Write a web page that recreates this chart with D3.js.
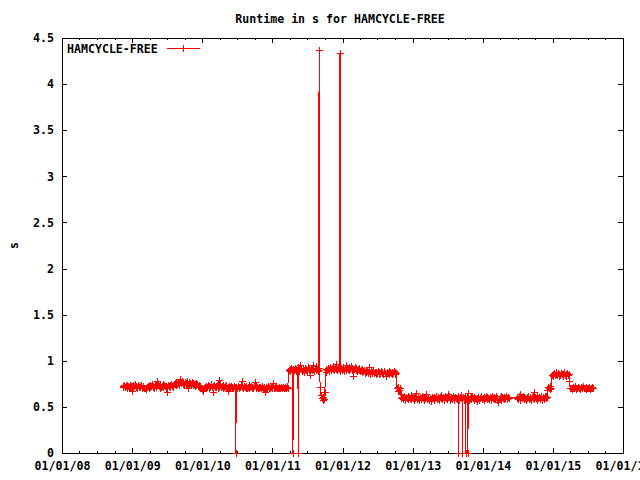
<!DOCTYPE html>
<html><head><meta charset="utf-8">
<script src="https://cdn.jsdelivr.net/npm/d3@7"></script>
<style>
body{margin:0;background:#fff;}
svg{display:block;}
text{font-family:"DejaVu Sans Mono",monospace;font-weight:bold;font-size:11.6px;fill:#000;}
</style></head><body>
<svg id="chart" width="640" height="480"></svg>
<script>
// ---------------- data ----------------
const chartTitle = "Runtime in s for HAMCYCLE-FREE";
const seriesName = "HAMCYCLE-FREE";
const yAxisLabel = "s";
const xDomain = ["2008-01-01", "2016-01-01"];
const yDomain = [0, 4.5];
const yTickValues = [0, 0.5, 1, 1.5, 2, 2.5, 3, 3.5, 4, 4.5];
const sampleStepDays = 4;

const segAStart = "2008-11-12";
const segAValues = [
  0.73,0.72,0.74,0.72,0.73,0.71,0.74,0.73,0.72,0.74,
  0.72,0.73,0.67,0.74,0.72,0.73,0.75,0.72,0.73,0.71,
  0.74,0.72,0.73,0.72,0.74,0.71,0.73,0.72,0.70,0.71,
  0.69,0.71,0.72,0.73,0.71,0.74,0.72,0.73,0.75,0.72,
  0.73,0.71,0.74,0.72,0.73,0.78,0.74,0.73,0.71,0.74,
  0.72,0.73,0.75,0.72,0.74,0.73,0.71,0.73,0.66,0.74,
  0.73,0.72,0.74,0.75,0.73,0.74,0.72,0.75,0.76,0.74,
  0.77,0.75,0.76,0.74,0.77,0.80,0.76,0.78,0.75,0.76,
  0.74,0.77,0.75,0.76,0.78,0.70,0.77,0.74,0.76,0.75,
  0.77,0.74,0.76,0.75,0.73,0.76,0.74,0.75,0.73,0.74,
  0.72,0.73,0.71,0.69,0.67,0.68,0.70,0.72,0.71,0.73,
  0.72,0.74,0.71,0.73,0.72,0.75,0.72,0.73,0.66,0.74,
  0.72,0.73,0.72,0.74,0.71,0.79,0.72,0.75,0.72,0.73,
  0.71,0.74,0.72,0.73,0.72,0.74,0.71,0.67,0.73,0.71,
  0.72,0.73,0.70,0.72,0.71,0.73,0.72,0.70,0.72,0.71,
  0.73,0.72,0.71,0.72,0.74,0.78,0.72,0.71,0.73,0.72,
  0.70,0.73,0.71,0.72,0.74,0.71,0.72,0.73,0.71,0.72,
  0.70,0.73,0.77,0.71,0.73,0.72,0.71,0.72,0.70,0.72,
  0.71,0.73,0.72,0.71,0.72,0.66,0.71,0.72,0.71,0.73,
  0.72,0.70,0.71,0.72,0.71,0.70,0.76,0.71,0.73,0.71,
  0.72,0.70,0.71,0.72,0.71,0.70,0.72,0.71,0.70,0.72,
  0.71,0.72,0.70,0.71,0.72,0.71
];

const segBStart = "2011-03-27";
const segBValues = [
  0.90,0.91,0.89,0.92,0.90,0.88,0.91,0.90,0.92,0.89,
  0.91,0.90,0.93,0.89,0.91,0.95,0.92,0.89,0.91,0.90,
  0.88,0.92,0.90,0.91,0.89,0.93,0.90,0.92,0.85,0.91,
  0.90,0.95,0.91,0.89,0.92,0.90,0.94,0.91,0.89,0.92,
  0.90,0.72,0.63,0.60,0.58,0.61,0.59,0.66,0.88,0.91,
  0.90,0.92,0.89,0.91,0.93,0.90,0.92,0.91,0.94,0.90,
  0.92,0.91,0.97,0.90,0.92,0.94,0.91,0.89,0.92,0.90,
  0.93,0.91,0.89,0.92,0.95,0.90,0.92,0.91,0.93,0.90,
  0.91,0.94,0.90,0.92,0.84,0.91,0.93,0.90,0.92,0.89,
  0.91,0.90,0.92,0.89,0.90,0.88,0.91,0.89,0.90,0.87,
  0.89,0.88,0.90,0.87,0.89,0.93,0.86,0.89,0.87,0.88,
  0.90,0.87,0.88,0.86,0.88,0.87,0.89,0.86,0.88,0.87,
  0.89,0.87,0.88,0.86,0.89,0.87,0.84,0.86,0.88,0.87,
  0.89,0.86,0.88,0.87,0.88,0.86,0.87,0.89,0.86,0.88,
  0.87
];

const segCStart = "2012-10-10";
const segCValues = [
  0.70,0.67,0.72,0.68,0.71,0.64,0.60,0.61,0.59,0.62,
  0.60,0.58,0.61,0.60,0.62,0.59,0.61,0.60,0.63,0.59,
  0.61,0.60,0.58,0.62,0.60,0.65,0.59,0.60,0.62,0.58,
  0.61,0.59,0.60,0.62,0.60,0.58,0.61,0.60,0.64,0.59,
  0.60,0.61,0.58,0.60,0.56,0.59,0.61,0.60,0.58,0.61,
  0.60,0.62,0.59,0.61,0.60,0.58,0.61,0.63,0.60,0.59,
  0.61,0.60,0.58,0.62,0.60,0.59,0.61,0.64,0.62,0.58,
  0.60,0.61,0.59,0.62,0.60,0.58,0.61,0.60,0.59,0.62,
  0.60,0.58,0.61,0.60,0.63,0.59,0.61,0.60,0.58,0.61,
  0.59,0.61,0.60,0.65,0.58,0.60,0.61,0.59,0.62,0.60,
  0.58,0.61,0.60,0.59,0.56,0.60,0.61,0.58,0.60,0.61,
  0.62,0.59,0.60,0.61,0.58,0.60,0.62,0.59,0.61,0.60,
  0.59,0.61,0.60,0.58,0.62,0.60,0.61,0.59,0.60,0.62,
  0.58,0.60,0.55,0.59,0.60,0.62,0.58,0.61,0.60,0.59,
  0.61,0.60,0.62,0.59,0.60,0.61,0.60,null,null,null,
  null,null,null,null,null,null,0.60,0.61,0.59,0.62,
  0.64,0.58,0.61,0.60,0.62,0.59,0.61,0.60,0.58,0.61,
  0.60,0.62,0.59,0.61,0.60,0.58,0.61,0.60,0.66,0.59,
  0.61,0.60,0.58,0.62,0.60,0.61,0.59,0.60,0.62,0.58,
  0.61,0.60,0.59,0.62,0.60,0.61,0.68,0.72,0.70,0.73,
  0.69,0.71
];

const segDStart = "2014-12-26";
const segDValues = [
  0.85,0.86,0.84,0.87,0.85,0.86,0.88,0.85,0.87,0.84,
  0.86,0.85,0.87,0.86,0.84,0.86,0.88,0.85,0.86,0.84,
  0.87,0.85,0.86,0.78
];

const segEStart = "2015-04-01";
const segEValues = [
  0.70,0.71,0.69,0.72,0.70,0.71,0.73,0.69,0.71,0.70,
  0.72,0.70,0.71,0.69,0.72,0.70,0.71,0.73,0.70,0.71,
  0.69,0.72,0.70,0.71,0.70,0.72,0.69,0.71,0.70,0.72,
  0.71
];

const zeroDates = ["2010-06-24","2011-04-18","2011-05-15","2013-08-27","2013-09-17","2013-10-03","2013-10-15"];
const spikeDates = ["2011-09-01","2011-12-19"];
const spikeValues = [4.37, 4.34];

// ---------------- build ----------------
const parse = d3.utcParse("%Y-%m-%d");
function segPoints(start, values) {
  const s = parse(start);
  return values.map((v, i) => ({date: d3.utcDay.offset(s, i * sampleStepDays), value: v}))
               .filter(d => d.value !== null);
}
let points = [].concat(
  segPoints(segAStart, segAValues),
  segPoints(segBStart, segBValues),
  segPoints(segCStart, segCValues),
  segPoints(segDStart, segDValues),
  segPoints(segEStart, segEValues),
  zeroDates.map(d => ({date: parse(d), value: 0})),
  spikeDates.map((d, i) => ({date: parse(d), value: spikeValues[i]}))
);
points.sort((a, b) => a.date - b.date);

const W = 640, H = 480;
const L = 62, R = 623, T = 38, B = 453;
const svg = d3.select("#chart");
svg.append("rect").attr("width", W).attr("height", H).attr("fill", "#fff");

const x = d3.scaleUtc().domain(xDomain.map(parse)).range([L, R]);
const y = d3.scaleLinear().domain(yDomain).range([B, T]);

const fmtX = d3.utcFormat("%m/%d/%y");
const fmtY = d3.format("~g");

function clean(g) { g.select(".domain").remove(); g.selectAll("line").attr("stroke", "#000").attr("shape-rendering", "crispEdges"); }

// minor x ticks (quarterly)
svg.append("g").attr("transform", `translate(0,${B})`)
  .call(d3.axisBottom(x).ticks(d3.utcMonth.every(3)).tickSize(-2).tickSizeOuter(0).tickFormat(""))
  .call(clean);
svg.append("g").attr("transform", `translate(0,${T})`)
  .call(d3.axisTop(x).ticks(d3.utcMonth.every(3)).tickSize(-2).tickSizeOuter(0).tickFormat(""))
  .call(clean);
// major x ticks
const gxb = svg.append("g").attr("transform", `translate(0,${B})`)
  .call(d3.axisBottom(x).ticks(d3.utcYear.every(1)).tickSize(-5).tickSizeOuter(0).tickPadding(9).tickFormat(fmtX))
  .call(clean);
gxb.attr("font-family", null).attr("font-size", null);
gxb.selectAll("text").attr("fill", "#000");
svg.append("g").attr("transform", `translate(0,${T})`)
  .call(d3.axisTop(x).ticks(d3.utcYear.every(1)).tickSize(-5).tickSizeOuter(0).tickFormat(""))
  .call(clean);
// y ticks
const gyl = svg.append("g").attr("transform", `translate(${L},0)`)
  .call(d3.axisLeft(y).tickValues(yTickValues).tickSize(-5).tickSizeOuter(0).tickPadding(8).tickFormat(fmtY))
  .call(clean);
gyl.attr("font-family", null).attr("font-size", null);
gyl.selectAll("text").attr("fill", "#000");
svg.append("g").attr("transform", `translate(${R},0)`)
  .call(d3.axisRight(y).tickValues(yTickValues).tickSize(-5).tickSizeOuter(0).tickFormat(""))
  .call(clean);

// border
svg.append("rect").attr("x", L + 0.5).attr("y", T + 0.5).attr("width", R - L).attr("height", B - T)
  .attr("fill", "none").attr("stroke", "#000").attr("shape-rendering", "crispEdges");

// title & labels
svg.append("text").attr("x", 340).attr("y", 23).attr("text-anchor", "middle").text(chartTitle);
svg.append("text").attr("transform", `translate(18,${(T + B) / 2}) rotate(-90)`).attr("text-anchor", "middle").text(yAxisLabel);

// series
const red = "#ff0000";
const line = d3.line().x(d => x(d.date)).y(d => y(d.value));
svg.append("path").datum(points).attr("d", line).attr("fill", "none").attr("stroke", red)
  .attr("stroke-width", 1).attr("shape-rendering", "crispEdges");

const ms = 3;
function crossPath(px, py) {
  const cx = Math.round(px) + 0.5, cy = Math.round(py) + 0.5;
  return `M${cx - ms - 0.5},${cy}H${cx + ms + 0.5}M${cx},${cy - ms - 0.5}V${cy + ms + 0.5}`;
}
svg.append("g").selectAll("path").data(points).join("path")
  .attr("d", d => crossPath(x(d.date), y(d.value)))
  .attr("fill", "none").attr("stroke", red).attr("stroke-width", 1).attr("shape-rendering", "crispEdges");

// legend
svg.append("text").attr("x", 67).attr("y", 53).text(seriesName);
svg.append("line").attr("x1", 167).attr("x2", 200).attr("y1", 48.5).attr("y2", 48.5)
  .attr("stroke", red).attr("shape-rendering", "crispEdges");
svg.append("path").attr("d", crossPath(183, 48)).attr("fill", "none").attr("stroke", red).attr("shape-rendering", "crispEdges");
</script>
</body></html>
